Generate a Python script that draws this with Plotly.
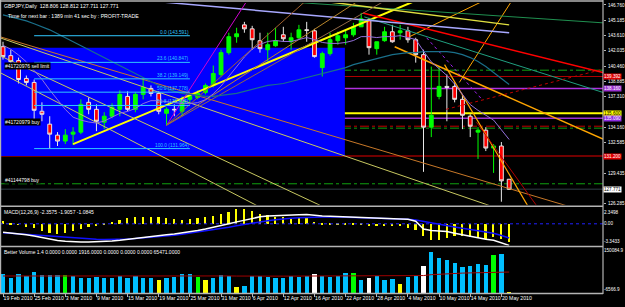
import plotly.graph_objects as go

# ---------------- data ----------------
n_bars = 66
bar_idx = list(range(n_bars))
date_tick_idx = [0, 4, 8, 12, 16, 20, 24, 28, 32, 36, 40, 44, 48, 52, 56, 60, 64]
date_tick_text = ["19 Feb 2010", "25 Feb 2010", "3 Mar 2010", "9 Mar 2010", "15 Mar 2010",
                  "19 Mar 2010", "25 Mar 2010", "31 Mar 2010", "6 Apr 2010", "12 Apr 2010",
                  "16 Apr 2010", "22 Apr 2010", "28 Apr 2010", "4 May 2010", "10 May 2010",
                  "14 May 2010", "20 May 2010"]

opens = [142.46, 141.54, 141.03, 139.19, 138.78, 135.81, 134.48, 133.35, 132.74, 133.45,
         133.66, 136.73, 136.01, 134.68, 135.30, 136.01, 137.34, 136.01, 137.55, 138.16,
         137.65, 135.60, 136.01, 135.81, 137.04, 137.24, 137.75, 138.47, 139.60, 141.85,
         143.49, 144.71, 144.30, 143.08, 142.15, 142.56, 143.69, 142.97, 143.38, 144.20,
         144.10, 140.31, 141.75, 143.08, 143.38, 143.69, 144.51, 145.22, 142.26, 143.08,
         144.00, 143.90, 144.10, 143.18, 141.64, 134.17, 137.34, 138.37, 138.37, 137.04,
         135.30, 133.66, 133.86, 132.02, 132.23, 128.806]
highs = [142.97, 142.15, 141.34, 139.49, 139.08, 136.73, 135.30, 133.66, 133.97, 134.17,
         137.04, 137.24, 136.52, 135.71, 136.63, 137.96, 137.86, 137.75, 139.29, 138.47,
         137.86, 136.22, 136.52, 137.34, 137.65, 137.96, 138.67, 140.52, 142.15, 143.90,
         144.41, 145.02, 144.61, 143.90, 143.90, 144.41, 144.51, 143.90, 144.71, 145.02,
         144.30, 141.95, 143.90, 144.00, 144.20, 144.92, 145.94, 145.43, 142.97, 144.51,
         144.71, 144.71, 144.51, 143.38, 142.15, 140.41, 140.41, 139.60, 138.78, 137.55,
         135.50, 134.17, 134.17, 132.43, 132.64, 128.812]
lows = [141.13, 140.41, 138.67, 138.47, 134.78, 134.78, 131.92, 132.23, 132.43, 132.33,
        133.45, 135.50, 133.76, 133.97, 135.09, 135.30, 135.81, 135.71, 137.04, 137.34,
        135.50, 134.37, 135.30, 135.30, 136.73, 137.04, 137.55, 138.27, 139.39, 141.64,
        142.87, 143.90, 142.15, 141.85, 140.93, 142.46, 142.97, 142.15, 143.18, 142.97,
        141.34, 139.39, 141.54, 142.67, 142.67, 143.49, 144.51, 141.64, 141.64, 142.97,
        142.87, 143.18, 142.87, 140.82, 129.57, 133.15, 137.04, 134.78, 136.73, 133.97,
        133.15, 130.90, 131.71, 129.46, 126.49, 127.711]
closes = [141.44, 140.92, 139.08, 138.78, 135.91, 135.50, 133.45, 132.74, 133.35, 133.66,
          136.52, 136.01, 134.78, 135.30, 136.22, 137.55, 136.01, 137.55, 138.27, 137.65,
          135.81, 136.01, 135.96, 137.04, 137.34, 137.65, 138.47, 139.70, 141.85, 143.49,
          143.79, 144.30, 143.18, 142.26, 142.67, 143.08, 143.28, 143.38, 144.20, 144.15,
          141.44, 141.75, 143.18, 143.59, 143.69, 144.51, 145.33, 142.36, 142.97, 144.00,
          142.97, 144.10, 143.18, 141.64, 134.17, 135.40, 138.37, 138.27, 137.04, 135.40,
          134.27, 133.86, 132.02, 132.23, 128.64, 127.771]

fast_ma = [142.6, 142.2, 141.6, 140.9, 140.0, 139.1, 138.0, 137.0, 136.0, 135.2,
           134.9, 134.7, 134.6, 134.8, 135.2, 135.6, 135.8, 136.1, 136.6, 136.9,
           136.9, 136.8, 136.7, 136.6, 136.6, 136.7, 137.0, 137.6, 138.4, 139.4,
           140.4, 141.4, 142.2, 142.7, 143.0, 143.1, 143.0, 143.0, 143.2, 143.4,
           143.2, 142.9, 142.8, 142.8, 142.9, 143.1, 143.5, 143.5, 143.4, 143.5,
           143.5, 143.6, 143.4, 143.2, 142.0, 140.9, 140.2, 139.5, 138.6, 137.6,
           136.5, 135.9, 135.4, 134.9, 133.9, 132.9]
slow_ma = [145.74, 145.53, 145.33, 145.12, 144.82, 144.51, 144.20, 143.79, 143.38, 142.97,
           142.58, 142.15, 141.74, 141.34, 140.93, 140.52, 140.11, 139.70, 139.29, 138.88,
           138.47, 138.16, 137.86, 137.65, 137.55, 137.45, 137.34, 137.34, 137.45, 137.55,
           137.65, 137.86, 138.06, 138.27, 138.47, 138.57, 138.67, 138.88, 139.08, 139.29,
           139.49, 139.70, 139.90, 140.11, 140.31, 140.62, 140.82, 141.03, 141.23, 141.44,
           141.64, 141.74, 141.85, 141.85, 141.95, 141.95, 141.95, 141.95, 141.85, 141.64,
           141.34, 140.93, 140.41, 139.80, 139.19, 138.57]

# fibonacci retracement
fib_high = 143.591
fib_low = 131.964
fib_ratios = [0.0, 23.6, 38.2, 50.0, 61.8, 100.0]
fib_x0, fib_x1 = 4, 24

# blue rectangle (bar index range, price range)
rect_x = (-1, 43.9)
rect_p = (131.20, 142.36)

# horizontal lines (prices)
h_green1 = 140.04
h_red1 = 139.392
h_purple1 = 138.160
h_yellow = 135.600
h_purple2 = 135.090
h_red_dd = 134.27
h_green2 = 134.07
h_red2 = 131.200
h_green3 = 128.34
bid_price = 127.771

order_labels = ["#41720976 sell limit", "#41720979 buy", "#41144798 buy"]
order_prices = [h_green1, h_red_dd, h_green3]

# trend lines: (bar0, price0, bar1, price1)
trend_lines = [
    (9.0, 132.43, 53.2, 147.27),     # bright yellow
    (-0.4, 143.38, 77.05, 122.09),   # pale yellow 1
    (-0.4, 141.54, 41.9, 125.68),    # pale yellow 2
    (-0.4, 139.80, 33.6, 125.68),    # pale yellow 3
    (-0.4, 143.49, 77.05, 124.96),   # brown
    (50.3, 142.46, 77.05, 132.94),   # orange 1
    (56.7, 140.62, 67.6, 125.78),    # orange 2
    (58.6, 138.78, 65.4, 147.27),    # orange 3
    (52.2, 143.49, 61.4, 147.07),    # orange 4
    (46.2, 145.94, 77.05, 139.80),   # red
    (46.4, 145.53, 77.05, 137.75),   # teal
    (36.8, 147.07, 77.05, 144.92),   # green top
    (41.9, 147.07, 65.0, 144.71),    # yellow top
    (17.6, 147.27, 65.0, 143.89),    # lavender
    (21.0, 134.37, 31.4, 147.27),    # fan magenta
    (21.0, 134.37, 39.0, 147.27),    # fan brown
    (21.0, 134.37, 45.8, 147.27),    # fan goldenrod
    (21.0, 134.37, 49.2, 147.27),    # fan dim
    (56.9, 136.01, 76.9, 140.11),    # dark red dotted
    (60.8, 134.68, 68.8, 125.78),    # dark red steep
    (54.4, 143.38, 61.5, 137.04),    # purple dotted
]
trend_styles = [
    ("#ffff00", 2, "solid"), ("#c8c860", 1, "solid"), ("#c8c860", 1, "solid"),
    ("#c8c860", 1, "solid"), ("#c87828", 1, "solid"), ("#ffa500", 1.5, "solid"),
    ("#ffa500", 1.2, "solid"), ("#ffa500", 1, "solid"), ("#ffa500", 1, "solid"),
    ("#ff0000", 1.5, "solid"), ("#20a080", 1, "solid"), ("#209050", 1, "solid"),
    ("#e0e040", 1.5, "solid"), ("#a8a8ff", 1.5, "solid"), ("#d000d0", 1, "solid"),
    ("#a0602d", 1, "solid"), ("#b8862b", 1, "solid"), ("#906848", 1, "solid"),
    ("#c00000", 1, "dot"), ("#b00000", 1, "solid"), ("#a020f0", 1, "dot"),
]

# MACD(12,26,9)
macd_hist = [0.5, 0.25, -0.1, -0.4, -0.6, -1.1, -1.4, -1.5, -1.4, -1.1,
             -0.75, -0.4, -0.15, 0.15, 0.4, 0.65, 0.9, 1.05, 1.15, 1.15,
             1.05, 0.9, 0.8, 0.65, 0.8, 0.9, 1.15, 1.3, 1.65, 1.9,
             2.3498, 2.3, 2.0, 1.65, 1.4, 1.15, 1.05, 1.0, 1.0, 0.9,
             0.4, 0.15, 0.05, 0.15, 0.1, 0.15, 0.2, -0.2, -0.15, -0.25,
             -0.15, -0.3, -0.6, -0.9, -1.9, -2.5, -2.4, -2.2, -1.9, -1.8,
             -2.0, -2.1, -2.3, -2.0, -2.3, -2.7]
macd_main = [-1.30, -1.40, -1.55, -1.70, -1.90, -2.15, -2.40, -2.60, -2.72, -2.80,
             -2.82, -2.82, -2.80, -2.72, -2.65, -2.55, -2.40, -2.22, -2.05, -1.92,
             -1.82, -1.70, -1.58, -1.42, -1.25, -1.05, -0.82, -0.58, -0.30, 0.00,
             0.30, 0.58, 0.85, 1.08, 1.20, 1.28, 1.32, 1.38, 1.42, 1.45,
             1.30, 1.22, 1.18, 1.12, 1.08, 1.02, 0.98, 0.92, 0.85, 0.80,
             0.78, 0.74, 0.70, 0.40, -0.80, -1.05, -1.12, -1.20, -1.45, -1.70,
             -1.95, -2.20, -2.38, -2.55, -2.90, -3.3433]
macd_signal = [-1.40, -1.48, -1.58, -1.68, -1.78, -1.85, -1.92, -2.02, -2.12, -2.22,
               -2.30, -2.36, -2.40, -2.42, -2.42, -2.40, -2.35, -2.28, -2.20, -2.10,
               -2.00, -1.90, -1.78, -1.62, -1.45, -1.28, -1.12, -0.95, -0.75, -0.52,
               -0.30, -0.08, 0.12, 0.30, 0.48, 0.62, 0.78, 0.86, 0.92, 0.96,
               1.05, 1.10, 1.08, 1.05, 1.02, 0.98, 0.95, 0.92, 0.88, 0.82,
               0.78, 0.74, 0.70, 0.60, 0.40, 0.22, 0.00, -0.25, -0.48, -0.70,
               -0.88, -1.05, -1.25, -1.45, -1.80, -2.20]
macd_max, macd_min = 2.3498, -3.3433
macd_title = "MACD(12,26,9) -2.3575 -1.9057 -1.0845"

# Better Volume 1.4
volume = [64949, 50305, 64949, 55754, 69376, 61543, 61543, 61543, 61543, 58138,
          50305, 50305, 53711, 50305, 50305, 55754, 50305, 55754, 50305, 50305,
          44516, 50305, 53711, 64949, 64949, 53711, 44516, 50305, 61543, 55754,
          19656, 24083, 55754, 55754, 52349, 50305, 50305, 55754, 53711, 55754,
          64949, 58138, 52349, 58138, 67333, 67333, 44516, 50305, 58138, 42133,
          47921, 30894, 52349, 58138, 92193, 140894, 120461, 112626, 103432, 87767,
          93215, 99004, 95598, 129653, 133058, 1916]
vol_kind = ["n"] * 8 + ["g"] + ["n"] * 11 + ["y"] + ["n"] * 4 + ["g", "y"] + ["n"] * 3 + \
           ["y"] + ["n"] * 9 + ["w"] + ["n"] * 4 + ["g", "n", "w", "n", "n", "n", "y", "n", "n",
           "w"] + ["n"] * 8 + ["g", "n", "y"]
vol_avg = [52000, 52100, 52200, 52300, 52500, 52700, 52900, 53100, 53300, 53400,
           53400, 53300, 53200, 53100, 53000, 52900, 52800, 52800, 52700, 52600,
           52500, 52400, 52400, 52500, 52600, 52600, 52500, 52400, 52300, 52200,
           51800, 51400, 51300, 51300, 51300, 51400, 51500, 51600, 51700, 51800,
           52000, 52200, 52300, 52400, 52600, 52800, 52800, 52700, 52700, 52600,
           52400, 52100, 52000, 52100, 53500, 56500, 58500, 60000, 61200, 61900,
           62600, 63300, 63800, 64500, 65100, 65471]
vol_max, vol_min = 150084.9, -6566.9
vol_title = "Better Volume 1.4 0.0000 0.0000 1916.0000 0.0000 0.0000 0.0000 65471.0000"

# price scale labels (those hidden under the price boxes are left out)
price_ticks = [146.760, 145.185, 143.610, 142.035, 140.460, 138.885, 137.310,
               134.160, 132.585, 129.435, 126.285]
header = "GBPJPY,Daily  128.806 128.812 127.711 127.771"
timer_text = "Time for next bar : 1389 min 41 sec by : PROFIT-TRADE"

# ---------------- layout helpers ----------------
W, H = 625, 307
def py(px):  # pixel row -> paper y
    return 1 - px / H

FONT = "Liberation Sans"
GRAY = "#b4b4b4"
x_range = [-0.385, 77.05]
main_dom = [py(206), py(3)]
macd_dom = [py(247), py(210)]
vol_dom = [py(295), py(249)]

fig = go.Figure()

# trend lines
for (x0, p0, x1, p1), (c, w, d) in zip(trend_lines, trend_styles):
    fig.add_trace(go.Scatter(x=[x0, x1], y=[p0, p1], mode="lines",
                             line=dict(color=c, width=w, dash=d),
                             hoverinfo="skip", showlegend=False, xaxis="x", yaxis="y"))

# moving averages
fig.add_trace(go.Scatter(x=bar_idx, y=slow_ma, mode="lines", line=dict(color="#1a6f8a", width=1.2),
                         hoverinfo="skip", showlegend=False))
fig.add_trace(go.Scatter(x=bar_idx, y=fast_ma, mode="lines", line=dict(color="#9370db", width=1),
                         hoverinfo="skip", showlegend=False))

# fibonacci lines
fib_levels = [fib_high - r / 100 * (fib_high - fib_low) for r in fib_ratios]
for r, lv in zip(fib_ratios, fib_levels):
    fig.add_trace(go.Scatter(x=[fib_x0, fib_x1], y=[lv, lv], mode="lines",
                             line=dict(color="#30c8ff", width=1), hoverinfo="skip", showlegend=False))

# candles
fig.add_trace(go.Candlestick(
    x=bar_idx, open=opens, high=highs, low=lows, close=closes,
    increasing=dict(line=dict(color="#00ff00", width=1), fillcolor="#00ff00"),
    decreasing=dict(line=dict(color="#e8e8e8", width=1), fillcolor="#ff0000"),
    whiskerwidth=0, hoverinfo="skip", showlegend=False, xaxis="x", yaxis="y"))

# MACD panel
fig.add_trace(go.Bar(x=bar_idx, y=macd_hist, marker=dict(color="#ffff00", line=dict(width=0)),
                     width=0.22, xaxis="x2", yaxis="y2", showlegend=False, hoverinfo="skip"))
fig.add_trace(go.Scatter(x=[x_range[0], x_range[1]], y=[0, 0], mode="lines",
                         line=dict(color="#2020ff", width=1, dash="dot"),
                         xaxis="x2", yaxis="y2", showlegend=False, hoverinfo="skip"))
fig.add_trace(go.Scatter(x=bar_idx, y=macd_signal, mode="lines", line=dict(color="#1010ff", width=1.5),
                         xaxis="x2", yaxis="y2", showlegend=False, hoverinfo="skip"))
fig.add_trace(go.Scatter(x=bar_idx, y=macd_main, mode="lines", line=dict(color="#ffffff", width=1.5),
                         xaxis="x2", yaxis="y2", showlegend=False, hoverinfo="skip"))

# Volume panel
kind_color = {"n": "#00bfff", "g": "#00ff00", "y": "#ffff00", "w": "#ffffff"}
fig.add_trace(go.Bar(x=bar_idx, y=volume, base=vol_min,
                     marker=dict(color=[kind_color[k] for k in vol_kind], line=dict(width=0)),
                     width=0.55, xaxis="x3", yaxis="y3", showlegend=False, hoverinfo="skip"))
fig.add_trace(go.Scatter(x=bar_idx, y=vol_avg, mode="lines",
                         line=dict(color="#a00000", width=1),
                         xaxis="x3", yaxis="y3", showlegend=False, hoverinfo="skip"))

shapes = []
# blue rectangle
shapes.append(dict(type="rect", xref="x", yref="y", x0=rect_x[0], x1=rect_x[1], y0=rect_p[0], y1=rect_p[1],
                   fillcolor="#0000ff", line=dict(width=0), layer="below"))
def hline(p, color, width=1, dash="solid"):
    shapes.append(dict(type="line", xref="x domain", yref="y", x0=0, x1=1, y0=p, y1=p,
                       line=dict(color=color, width=width, dash=dash), layer="below"))
hline(h_green1, "#10a010", 1, "dashdot")
hline(h_red1, "#b00000", 1)
hline(h_purple1, "#b030e0", 1.5)
hline(h_yellow, "#ffff00", 2)
hline(h_purple2, "#9a30d0", 1.5)
hline(h_red_dd, "#c00000", 1, "dashdot")
hline(h_green2, "#10a010", 1, "dashdot")
hline(h_red2, "#e00000", 1.2)
hline(h_green3, "#10a010", 1, "dashdot")
hline(bid_price, "#202830", 1.5)

# panel borders
for px in [1, 207.5, 248, 295.5]:
    shapes.append(dict(type="line", xref="paper", yref="paper", x0=0, x1=1, y0=py(px), y1=py(px),
                       line=dict(color=GRAY, width=1.5)))
shapes.append(dict(type="line", xref="paper", yref="paper", x0=1, x1=1, y0=py(296), y1=1,
                   line=dict(color=GRAY, width=1.2)))
shapes.append(dict(type="line", xref="paper", yref="paper", x0=0.001, x1=0.001, y0=py(296), y1=1,
                   line=dict(color=GRAY, width=1.2)))

ann = []
def text(x, y, s, color="#ffffff", size=5, xref="paper", yref="paper", xanchor="left",
         yanchor="middle", bg=None):
    d = dict(x=x, y=y, xref=xref, yref=yref, text=s, showarrow=False, xanchor=xanchor, yanchor=yanchor,
             font=dict(family=FONT, size=size, color=color), borderpad=0)
    if bg:
        d["bgcolor"] = bg
    ann.append(d)

text(3 / W, py(6), header, size=5.2)
text(7 / W, py(16), timer_text, size=5.2)
for r, lv in zip(fib_ratios, fib_levels):
    text(fib_x1, lv, f"{r:.1f} ({lv:.3f})", color="#30c8ff", size=4.8, xref="x", yref="y",
         xanchor="right", yanchor="bottom")
for s, p in zip(order_labels, order_prices):
    text(4 / W, p, s, size=5, yref="y", yanchor="bottom", bg="#000000")

# right-side price boxes
def pbox(p, bg, fg):
    text(1, p, f"{p:.3f}", color=fg, size=4.6, yref="y", bg=bg)
pbox(h_red1, "#e00000", "#ffffff")
pbox(h_purple1, "#9a30d0", "#ffffff")
pbox(h_yellow, "#ffff00", "#000000")
pbox(h_purple2, "#8a2be2", "#ffffff")
pbox(h_red2, "#e00000", "#ffffff")
pbox(bid_price, "#ffffff", "#000000")

# indicator panel texts
text(3 / W, py(213.5), macd_title, size=5)
text(3 / W, py(254), vol_title, size=5)
text(1, macd_max, f"{macd_max:.4f}", yref="y2", yanchor="top", size=4.6)
text(1, 0, "0.00", yref="y2", size=4.6)
text(1, macd_min, f"{macd_min:.4f}", yref="y2", yanchor="bottom", size=4.6)
text(1, vol_max, f"{vol_max:.1f}", yref="y3", yanchor="top", size=4.6)
text(1, vol_min, f"{vol_min:.1f}", yref="y3", yanchor="bottom", size=4.6)

axis_common = dict(showgrid=False, zeroline=False, fixedrange=True)
fig.update_layout(
    width=W, height=H, margin=dict(l=0, r=21, t=0, b=0),
    paper_bgcolor="#000000", plot_bgcolor="#000000",
    shapes=shapes, annotations=ann, showlegend=False, bargap=0,
    xaxis=dict(domain=[0, 1], range=x_range, showticklabels=False, anchor="y",
               rangeslider=dict(visible=False), **axis_common),
    yaxis=dict(domain=main_dom, range=[126.188, 146.965], side="right", anchor="x",
               tickvals=price_ticks, ticktext=[f"{t:.3f}" for t in price_ticks],
               ticks="outside", ticklen=2, tickcolor=GRAY, ticklabelstandoff=1,
               tickfont=dict(family=FONT, size=4.6, color="#ffffff"), **axis_common),
    xaxis2=dict(domain=[0, 1], range=x_range, showticklabels=False, anchor="y2", **axis_common),
    yaxis2=dict(domain=macd_dom, range=[macd_min, macd_max], showticklabels=False, anchor="x2",
                **axis_common),
    xaxis3=dict(domain=[0, 1], range=x_range, anchor="y3", tickvals=date_tick_idx,
                ticktext=date_tick_text, ticks="outside", ticklen=3, tickcolor=GRAY,
                ticklabelposition="outside right", tickangle=0,
                tickfont=dict(family=FONT, size=5.2, color="#ffffff"), **axis_common),
    yaxis3=dict(domain=vol_dom, range=[vol_min, vol_max], showticklabels=False, anchor="x3",
                **axis_common),
)

fig.write_html("out.html")
